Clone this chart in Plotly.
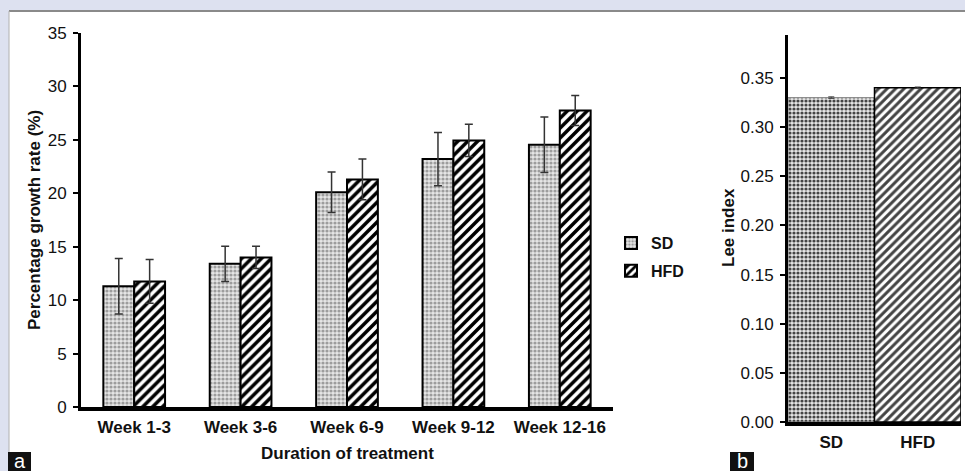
import plotly.graph_objects as go

# ---- data ----
weeks = ["Week 1-3", "Week 3-6", "Week 6-9", "Week 9-12", "Week 12-16"]
sd_growth = [11.3, 13.4, 20.1, 23.2, 24.55]
sd_growth_err = [2.6, 1.65, 1.9, 2.5, 2.6]
hfd_growth = [11.75, 14.0, 21.3, 24.95, 27.75]
hfd_growth_err = [2.05, 1.05, 1.9, 1.5, 1.4]

groups = ["SD", "HFD"]
lee_index = [0.330, 0.340]
lee_err = [0.0008, 0.0008]

W, H = 965, 471
def px(x):
    return x / W
def py(y):
    return (H - y) / H

FONT = "Liberation Sans, Arial, sans-serif"

fig = go.Figure()

sd_pattern = dict(shape=".", fgcolor="#9c9c9c", bgcolor="#e6e6e6", size=4, solidity=0.5, fgopacity=1)
hfd_pattern = dict(shape="/", fgcolor="#000000", bgcolor="#ffffff", size=7, solidity=0.5, fgopacity=1)

fig.add_trace(go.Bar(
    x=weeks, y=sd_growth, name="SD",
    marker=dict(color="#e6e6e6", pattern=sd_pattern, line=dict(color="#000", width=2)),
    error_y=dict(type="data", array=sd_growth_err, color="#333", thickness=1.5, width=4),
    xaxis="x", yaxis="y", legendgroup="a"))
fig.add_trace(go.Bar(
    x=weeks, y=hfd_growth, name="HFD",
    marker=dict(color="#ffffff", pattern=hfd_pattern, line=dict(color="#000", width=2)),
    error_y=dict(type="data", array=hfd_growth_err, color="#333", thickness=1.5, width=4),
    xaxis="x", yaxis="y", legendgroup="b"))

fig.add_trace(go.Bar(
    x=groups, y=lee_index,
    marker=dict(color=["#e6e6e6", "#ffffff"],
                pattern=dict(shape=[".", "/"], fgcolor=["#9c9c9c", "#000"],
                             bgcolor=["#e6e6e6", "#ffffff"], size=[4, 6], solidity=[0.5, 0.5],
                             fgopacity=1),
                line=dict(color=["#888888", "#000000"], width=[1, 1.5])),
    error_y=dict(type="data", array=lee_err, color="#444", thickness=1, width=3),
    xaxis="x2", yaxis="y2", showlegend=False, width=1.0))

tickfont = dict(family=FONT, size=17, color="#111")
boldfont = dict(family=FONT, size=17, color="#111", weight="bold")

def note(text, x, y, size=17, color="#111", angle=0):
    return dict(text=text, x=px(x), y=py(y), xref="paper", yref="paper",
                xanchor="center", yanchor="middle", textangle=angle, showarrow=False,
                font=dict(family=FONT, size=size, color=color))

fig.update_layout(
    width=W, height=H,
    margin=dict(l=0, r=0, t=0, b=0, autoexpand=False),
    paper_bgcolor="#dde1f0",
    plot_bgcolor="rgba(0,0,0,0)",
    barmode="group", bargap=0.42, bargroupgap=0,
    font=dict(family=FONT),
    xaxis=dict(domain=[px(81), px(613)], range=[-0.5, 4.5], showgrid=False,
               showline=True, linecolor="#000", linewidth=4, ticks="",
               tickfont=boldfont, anchor="y", ticklabelstandoff=2, automargin=False),
    yaxis=dict(domain=[py(407), py(33)], range=[0, 35], dtick=5, showgrid=False,
               showline=True, linecolor="#000", linewidth=3, ticks="outside",
               ticklen=5, tickwidth=2, tickcolor="#000", tickfont=tickfont,
               zeroline=False, anchor="x", ticklabelstandoff=3, automargin=False),
    xaxis2=dict(domain=[px(788), px(961)], range=[-0.5, 1.5], showgrid=False,
                showline=True, linecolor="#000", linewidth=4, ticks="",
                tickfont=boldfont, anchor="y2", ticklabelstandoff=2, automargin=False),
    yaxis2=dict(domain=[py(422), py(35)], range=[0, 0.3937], dtick=0.05, tickformat=".2f",
                showgrid=False, showline=True, linecolor="#000", linewidth=3,
                ticks="outside", ticklen=5, tickwidth=2, tickcolor="#000",
                tickfont=tickfont, zeroline=False, anchor="x2", ticklabelstandoff=3,
                automargin=False),
    legend=dict(x=px(611), y=py(226), xanchor="left", yanchor="top",
                font=dict(family=FONT, size=16, color="#111", weight="bold"),
                bgcolor="rgba(0,0,0,0)", tracegroupgap=4),
    shapes=[
        dict(type="rect", xref="paper", yref="paper", x0=px(9), x1=px(966), y0=py(472), y1=py(11),
             fillcolor="#ffffff", line=dict(width=0), layer="below"),
        dict(type="line", xref="paper", yref="paper", x0=px(9), x1=px(966), y0=py(11), y1=py(11),
             line=dict(color="#8a8a8a", width=2)),
        dict(type="line", xref="paper", yref="paper", x0=px(9), x1=px(9), y0=py(11), y1=py(472),
             line=dict(color="#b0b0b0", width=1)),
        dict(type="rect", xref="paper", yref="paper", x0=px(8), x1=px(31), y0=py(472), y1=py(452),
             fillcolor="#111", line=dict(width=0)),
        dict(type="rect", xref="paper", yref="paper", x0=px(730), x1=px(754), y0=py(472), y1=py(452),
             fillcolor="#111", line=dict(width=0)),
    ],
    annotations=[
        note("<b>Percentage growth rate (%)</b>", 34, 220, angle=-90),
        note("<b>Duration of treatment</b>", 347, 453),
        note("<b>Lee index</b>", 728, 228, angle=-90),
        note("a", 19.5, 461, size=20, color="#fff"),
        note("b", 742, 461, size=20, color="#fff"),
    ],
)

pin = ("var s=document.createElement('style');"
       "s.textContent='html,body{margin:0!important;padding:0!important;width:965px;height:471px;overflow:hidden;}';"
       "document.head.appendChild(s);")
fig.write_html("out.html", post_script=pin, config={"displayModeBar": False})
